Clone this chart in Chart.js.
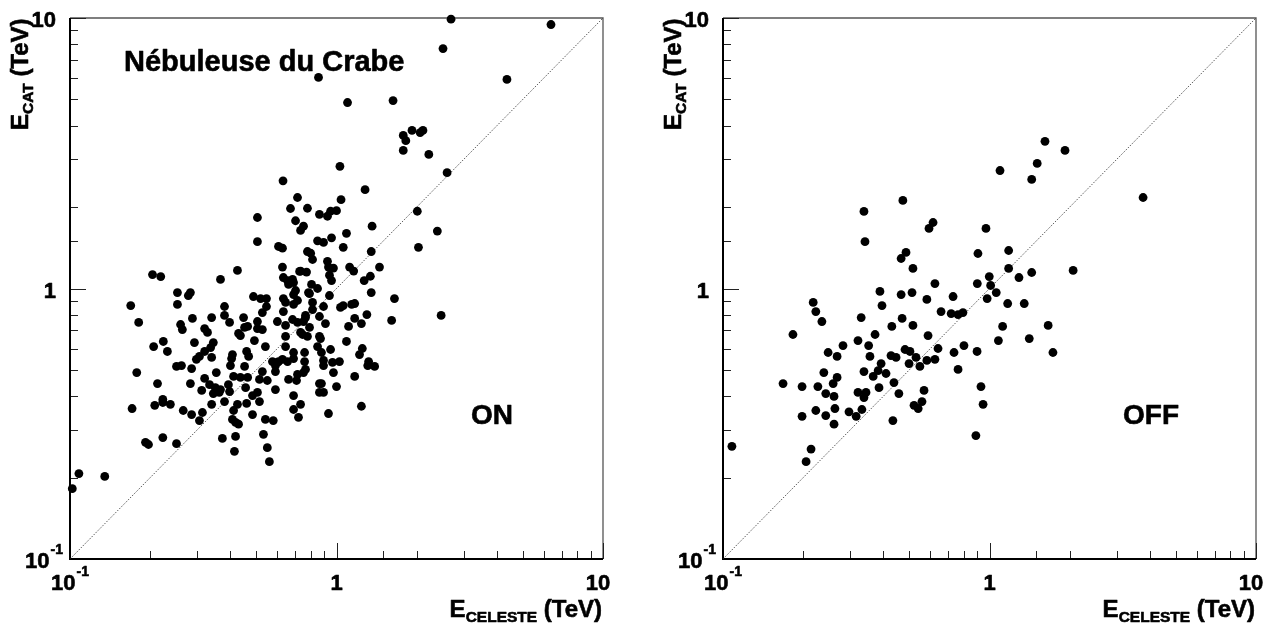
<!DOCTYPE html>
<html>
<head>
<meta charset="utf-8">
<title>E CAT vs E CELESTE</title>
<script src="https://cdn.jsdelivr.net/npm/chart.js@4"></script>
<style>
  html, body { margin: 0; padding: 0; background: #fff; }
  #wrap { position: relative; width: 1280px; height: 626px; overflow: hidden; }
  canvas { position: absolute; top: 0; }
</style>
</head>
<body>
<div id="wrap">
  <canvas id="chartOn" width="640" height="626" style="left:0"></canvas>
  <canvas id="chartOff" width="640" height="626" style="left:640px"></canvas>
</div>
<script>
// Energy estimates in TeV
const onCeleste = [
  2.69, 6.38, 2.51, 4.36, 0.856, 1.10, 1.63, 1.78, 1.92, 2.06,
  2.11, 1.82, 1.78, 2.22, 2.60, 1.03, 1.28, 1.04, 0.63, 0.714,
  0.778, 0.863, 0.925, 0.95, 1.00, 1.36, 2.01, 2.39, 0.752, 2.03,
  0.849, 0.894, 0.958, 1.09, 1.06, 0.778, 0.80, 0.813, 1.35, 0.733,
  0.772, 0.925, 0.933, 0.974, 0.941, 0.958, 1.12, 1.16, 1.45, 1.27,
  1.34, 0.806, 0.849, 0.785, 1.35, 0.941, 1.65, 0.813, 0.894, 1.035,
  1.06, 1.14, 1.17, 0.765, 0.863, 1.30, 1.61, 2.47, 0.752, 0.792,
  0.909, 1.17, 1.11, 1.24, 0.746, 0.778, 0.863, 0.871, 1.09, 0.849,
  0.95, 1.25, 1.22, 0.759, 0.878, 0.759, 0.894, 0.765, 0.966, 1.026,
  0.974, 1.32, 1.31, 1.39, 0.894, 1.17, 0.878, 0.894, 1.00, 0.505,
  0.505, 0.672, 0.702, 0.733, 0.606, 0.627, 0.627, 0.425, 0.367, 0.204,
  0.219, 0.632, 0.655, 0.684, 0.69, 0.727, 0.661, 0.702, 0.69, 0.714,
  0.69, 0.632, 0.644, 0.632, 0.792, 0.813, 0.253, 0.278, 0.283, 0.488,
  0.519, 0.546, 0.546, 0.527, 0.169, 0.253, 0.38, 0.38, 0.448, 0.181,
  0.26, 0.264, 0.288, 0.34, 0.397, 0.505, 0.505, 0.527, 0.464, 0.452,
  0.60, 0.644, 0.684, 0.714, 0.765, 0.32, 0.328, 0.644, 0.733, 0.429,
  0.436, 0.492, 0.541, 0.224, 0.206, 0.232, 0.293, 0.345, 0.337, 0.32,
  0.306, 0.298, 0.34, 0.644, 0.60, 0.69, 0.46, 0.468, 0.407, 0.404,
  0.251, 0.262, 0.286, 0.40, 0.452, 0.575, 0.59, 0.606, 0.627, 0.59,
  0.655, 0.69, 0.752, 0.714, 0.354, 0.32, 0.334, 0.351, 0.367, 0.393,
  0.397, 0.411, 0.436, 0.464, 0.527, 0.514, 0.55, 0.59, 0.661, 0.708,
  0.69, 0.213, 0.283, 0.312, 0.345, 0.363, 0.178, 0.223, 0.456, 0.484,
  0.505, 0.863, 0.863, 0.171, 0.208, 0.223, 0.238, 0.266, 0.286, 0.314,
  0.306, 0.34, 0.38, 0.411, 0.407, 0.418, 0.429, 0.425, 0.46, 0.484,
  0.514, 0.541, 0.579, 0.69, 0.72, 0.192, 0.197, 0.223, 0.251, 0.373,
  0.418, 0.532, 0.55, 0.414, 0.56, 0.108, 0.102, 0.135, 0.933, 1.24, 0.733
];
const onCat = [
  9.9, 9.46, 7.71, 5.93, 6.03, 4.87, 4.95, 3.68, 3.84, 3.77,
  3.84, 3.52, 3.24, 3.13, 2.68, 2.83, 2.32, 2.13, 2.50, 2.17,
  1.98, 1.88, 1.85, 1.93, 1.94, 1.70, 1.93, 1.63, 1.70, 1.42,
  1.50, 1.48, 1.54, 1.60, 1.42, 1.37, 1.35, 1.28, 1.37, 1.16,
  1.15, 1.26, 1.20, 1.19, 1.12, 1.07, 1.20, 1.16, 1.20, 1.07,
  1.11, 1.035, 1.00, 0.966, 0.966, 0.942, 0.918, 0.888, 0.858, 0.851,
  0.865, 0.873, 0.88, 0.795, 0.788, 0.801, 0.762, 0.795, 0.755, 0.718,
  0.742, 0.775, 0.724, 0.742, 0.676, 0.665, 0.665, 0.653, 0.637, 0.61,
  0.595, 0.60, 0.57, 0.58, 0.58, 0.537, 0.542, 0.502, 0.533, 0.537,
  0.489, 0.537, 0.519, 0.515, 0.519, 0.473, 0.445, 0.413, 0.434, 1.83,
  1.49, 1.976, 1.78, 1.64, 1.43, 1.41, 1.20, 1.166, 1.08, 1.126,
  1.107, 1.098, 1.07, 1.08, 1.052, 1.156, 1.035, 0.983, 0.95, 0.903,
  0.873, 0.918, 0.888, 0.822, 0.958, 0.836, 0.966, 0.942, 0.966, 0.934,
  0.918, 0.918, 0.858, 0.815, 0.865, 0.873, 0.858, 0.795, 0.781, 0.749,
  0.736, 0.705, 0.775, 0.781, 0.749, 0.755, 0.711, 0.705, 0.724, 0.718,
  0.755, 0.73, 0.768, 0.749, 0.781, 0.711, 0.688, 0.665, 0.688, 0.682,
  0.67, 0.642, 0.61, 0.637, 0.61, 0.585, 0.631, 0.631, 0.605, 0.585,
  0.561, 0.547, 0.556, 0.61, 0.533, 0.58, 0.585, 0.561, 0.57, 0.551,
  0.515, 0.519, 0.506, 0.519, 0.515, 0.537, 0.519, 0.537, 0.547, 0.493,
  0.537, 0.551, 0.489, 0.481, 0.489, 0.465, 0.441, 0.43, 0.423, 0.441,
  0.416, 0.473, 0.469, 0.469, 0.493, 0.461, 0.457, 0.423, 0.461, 0.457,
  0.402, 0.445, 0.445, 0.42, 0.409, 0.413, 0.489, 0.389, 0.43, 0.402,
  0.413, 0.445, 0.413, 0.36, 0.37, 0.379, 0.373, 0.354, 0.342, 0.348,
  0.325, 0.373, 0.382, 0.354, 0.328, 0.32, 0.315, 0.373, 0.376, 0.342,
  0.382, 0.328, 0.325, 0.357, 0.334, 0.27, 0.265, 0.281, 0.267, 0.279,
  0.284, 0.289, 0.258, 0.25, 0.229, 0.207, 0.182, 0.202, 0.345, 0.367, 0.373
];
const offCeleste = [
  0.338, 0.473, 0.341, 0.614, 0.593, 0.486, 0.466, 0.516, 0.624, 0.388,
  0.466, 0.512, 0.582, 0.73, 0.218, 1.615, 1.92, 1.51, 1.095, 1.44,
  3.77, 0.97, 0.905, 1.18, 1.18, 0.998, 1.29, 1.44, 2.06, 0.90,
  1.01, 1.06, 0.98, 0.223, 0.235, 0.183, 0.395, 0.658, 0.718, 0.762,
  0.33, 0.47, 0.43, 0.516, 0.372, 0.588, 0.282, 0.321, 0.352, 0.248,
  0.268, 0.356, 0.427, 0.446, 0.482, 0.503, 0.53, 0.641, 0.736, 0.582,
  0.624, 0.499, 0.548, 0.392, 0.382, 0.338, 0.409, 0.366, 0.762, 0.239,
  0.268, 0.259, 0.438, 0.168, 0.198, 0.227, 0.243, 0.261, 0.385, 0.321,
  0.344, 0.338, 0.457, 0.568, 0.558, 0.521, 0.54, 0.223, 0.243, 0.263,
  0.297, 0.332, 0.316, 0.198, 0.261, 0.434, 0.108, 0.214, 0.205, 1.17,
  1.35, 0.795, 1.12, 1.66, 1.08, 1.41, 0.802, 0.898, 1.73, 0.929, 0.946, 0.889
];
const offCat = [
  1.927, 2.116, 1.49, 1.754, 1.667, 1.359, 1.291, 1.186, 1.043, 0.975,
  0.95, 0.966, 0.911, 0.934, 0.888, 3.5, 3.24, 2.9, 2.73, 2.53,
  2.17, 1.667, 1.347, 1.382, 1.186, 1.107, 1.098, 1.146, 1.166, 1.043,
  1.026, 0.966, 0.918, 0.822, 0.755, 0.676, 0.865, 0.822, 0.808, 0.801,
  0.781, 0.775, 0.724, 0.73, 0.676, 0.67, 0.615, 0.642, 0.615, 0.58,
  0.561, 0.561, 0.565, 0.556, 0.595, 0.585, 0.556, 0.60, 0.58, 0.542,
  0.547, 0.528, 0.515, 0.528, 0.497, 0.493, 0.485, 0.473, 0.502, 0.489,
  0.469, 0.445, 0.449, 0.445, 0.434, 0.434, 0.409, 0.399, 0.43, 0.413,
  0.413, 0.395, 0.409, 0.42, 0.382, 0.37, 0.36, 0.354, 0.339, 0.36,
  0.35, 0.357, 0.337, 0.337, 0.315, 0.325, 0.261, 0.255, 0.229, 0.88,
  0.88, 0.815, 0.724, 0.73, 0.642, 0.653, 0.615, 0.585, 0.58, 0.434, 0.373, 0.286
];
const axisRange = [0.1, 10];   // both axes, TeV
const diagonal = [0.1, 10];    // E_CAT = E_CELESTE reference line

const FONT = '"Liberation Sans", Arial, Helvetica, sans-serif';

function isDecade(v) {
  const e = Math.log10(v);
  return Math.abs(e - Math.round(e)) < 1e-6;
}

// fill + thin stroke, the reference text is quite heavy
function heavyText(ctx, s, x, y) {
  ctx.fillText(s, x, y);
  ctx.strokeText(s, x, y);
}

// ROOT style "10^-1", "1", "10" labels
function drawPowLabel(ctx, v, x, y, align) {
  const e = Math.round(Math.log10(v));
  const base = e === 0 ? '1' : '10';
  const sup = (e === 0 || e === 1) ? '' : String(e);
  ctx.font = 'bold 22px ' + FONT;
  const bw = ctx.measureText(base).width;
  ctx.font = 'bold 14px ' + FONT;
  const sw = sup ? ctx.measureText(sup).width + 1 : 0;
  const total = bw + sw;
  const left = align === 'center' ? x - total / 2 : x - total;
  ctx.textAlign = 'left';
  ctx.textBaseline = 'alphabetic';
  ctx.font = 'bold 22px ' + FONT;
  heavyText(ctx, base, left, y);
  if (sup) {
    ctx.font = 'bold 14px ' + FONT;
    heavyText(ctx, sup, left + bw + 1, y - 14);
  }
}

// "E" + subscript + " (TeV)", drawn from (0,0) along +x
function drawSubText(ctx, main, sub, rest) {
  let x = 0;
  ctx.textAlign = 'left';
  ctx.textBaseline = 'alphabetic';
  ctx.font = 'bold 24px ' + FONT;
  heavyText(ctx, main, x, 0);
  x += ctx.measureText(main).width;
  ctx.font = 'bold 15.5px ' + FONT;
  heavyText(ctx, sub, x, 5);
  x += ctx.measureText(sub).width;
  ctx.font = 'bold 24px ' + FONT;
  heavyText(ctx, rest, x, 0);
  x += ctx.measureText(rest).width;
  return x;
}

function subTextWidth(ctx, main, sub, rest) {
  ctx.font = 'bold 24px ' + FONT;
  let w = ctx.measureText(main).width + ctx.measureText(rest).width;
  ctx.font = 'bold 15.5px ' + FONT;
  return w + ctx.measureText(sub).width;
}

const rootFrame = {
  id: 'rootFrame',
  beforeDatasetsDraw(chart) {
    const { ctx, chartArea: a, scales: { x, y } } = chart;
    ctx.save();
    // thin top / right frame
    ctx.strokeStyle = '#555';
    ctx.lineWidth = 1.3;
    ctx.beginPath();
    ctx.moveTo(a.left, a.top);
    ctx.lineTo(a.right, a.top);
    ctx.lineTo(a.right, a.bottom);
    ctx.stroke();

    // ticks pointing into the frame
    ctx.strokeStyle = '#222';
    ctx.lineWidth = 1;
    x.ticks.forEach(t => {
      const px = Math.round(x.getPixelForValue(t.value)) + 0.5;
      const len = isDecade(t.value) ? 16 : 8;
      ctx.beginPath();
      ctx.moveTo(px, a.bottom);
      ctx.lineTo(px, a.bottom - len);
      ctx.stroke();
    });
    y.ticks.forEach(t => {
      const py = Math.round(y.getPixelForValue(t.value)) + 0.5;
      const len = isDecade(t.value) ? 16 : 8;
      ctx.beginPath();
      ctx.moveTo(a.left, py);
      ctx.lineTo(a.left + len, py);
      ctx.stroke();
    });

    // thick left / bottom axes
    ctx.strokeStyle = '#000';
    ctx.lineWidth = 2;
    ctx.beginPath();
    ctx.moveTo(a.left, a.top);
    ctx.lineTo(a.left, a.bottom);
    ctx.lineTo(a.right, a.bottom);
    ctx.stroke();
    ctx.restore();
  },
  afterDraw(chart, args, opts) {
    const { ctx, chartArea: a, scales: { x, y } } = chart;
    ctx.save();
    ctx.fillStyle = '#000';
    ctx.strokeStyle = '#000';
    ctx.lineWidth = 0.6;
    ctx.lineJoin = 'round';

    // decade labels
    x.ticks.filter(t => isDecade(t.value)).forEach(t => {
      let px = x.getPixelForValue(t.value);
      if (t.value === axisRange[1]) px -= 5;
      drawPowLabel(ctx, t.value, px, a.bottom + 31, 'center');
    });
    y.ticks.filter(t => isDecade(t.value)).forEach(t => {
      const py = y.getPixelForValue(t.value);
      const hasSup = Math.round(Math.log10(t.value)) < 0;
      drawPowLabel(ctx, t.value, a.left - (hasSup ? 7 : 14), py + 9, 'right');
    });

    // x title, right aligned to the frame
    const w = subTextWidth(ctx, 'E', 'CELESTE', ' (TeV)');
    ctx.save();
    ctx.translate(a.right - 1 - w, a.bottom + 58);
    drawSubText(ctx, 'E', 'CELESTE', ' (TeV)');
    ctx.restore();

    // y title, rotated
    ctx.save();
    ctx.translate(a.left - 42, 130);
    ctx.rotate(-Math.PI / 2);
    drawSubText(ctx, 'E', 'CAT', ' (TeV)');
    ctx.restore();

    // annotations
    (opts.notes || []).forEach(n => {
      ctx.font = 'bold ' + n.size + 'px ' + FONT;
      ctx.textAlign = 'left';
      ctx.textBaseline = 'alphabetic';
      heavyText(ctx, n.text, a.left + n.dx, n.y);
    });
    ctx.restore();
  }
};

function makeChart(canvasId, xs, ys, layout) {
  const points = xs.map((v, i) => ({ x: v, y: ys[i] }));
  const line = diagonal.map(v => ({ x: v, y: v }));
  return new Chart(document.getElementById(canvasId), {
    type: 'scatter',
    data: {
      datasets: [
        {
          data: line,
          showLine: true,
          borderColor: '#222',
          borderWidth: 1,
          borderDash: [1, 1.6],
          pointRadius: 0,
          order: 2
        },
        {
          data: points,
          pointRadius: 4.4,
          pointBackgroundColor: '#000',
          pointBorderWidth: 0,
          clip: false,
          order: 1
        }
      ]
    },
    options: {
      responsive: false,
      devicePixelRatio: 1,
      animation: false,
      events: [],
      layout: { padding: { top: 18, right: layout.padRight, left: 0, bottom: 0 } },
      plugins: {
        legend: { display: false },
        tooltip: { enabled: false },
        rootFrame: { notes: layout.notes }
      },
      scales: {
        x: {
          type: 'logarithmic',
          min: axisRange[0],
          max: axisRange[1],
          position: 'bottom',
          grid: { display: false },
          border: { display: false },
          ticks: { display: false },
          afterFit: s => { s.height = 67; }
        },
        y: {
          type: 'logarithmic',
          min: axisRange[0],
          max: axisRange[1],
          position: 'left',
          grid: { display: false },
          border: { display: false },
          ticks: { display: false },
          afterFit: s => { s.width = layout.yWidth; }
        }
      }
    },
    plugins: [rootFrame]
  });
}

makeChart('chartOn', onCeleste, onCat, {
  yWidth: 70,
  padRight: 37,
  notes: [
    { text: 'Nébuleuse du Crabe', size: 29, dx: 54, y: 71 },
    { text: 'ON', size: 28, dx: 401, y: 424 }
  ]
});

makeChart('chartOff', offCeleste, offCat, {
  yWidth: 83,
  padRight: 24,
  notes: [
    { text: 'OFF', size: 28, dx: 400, y: 424 }
  ]
});
</script>
</body>
</html>
